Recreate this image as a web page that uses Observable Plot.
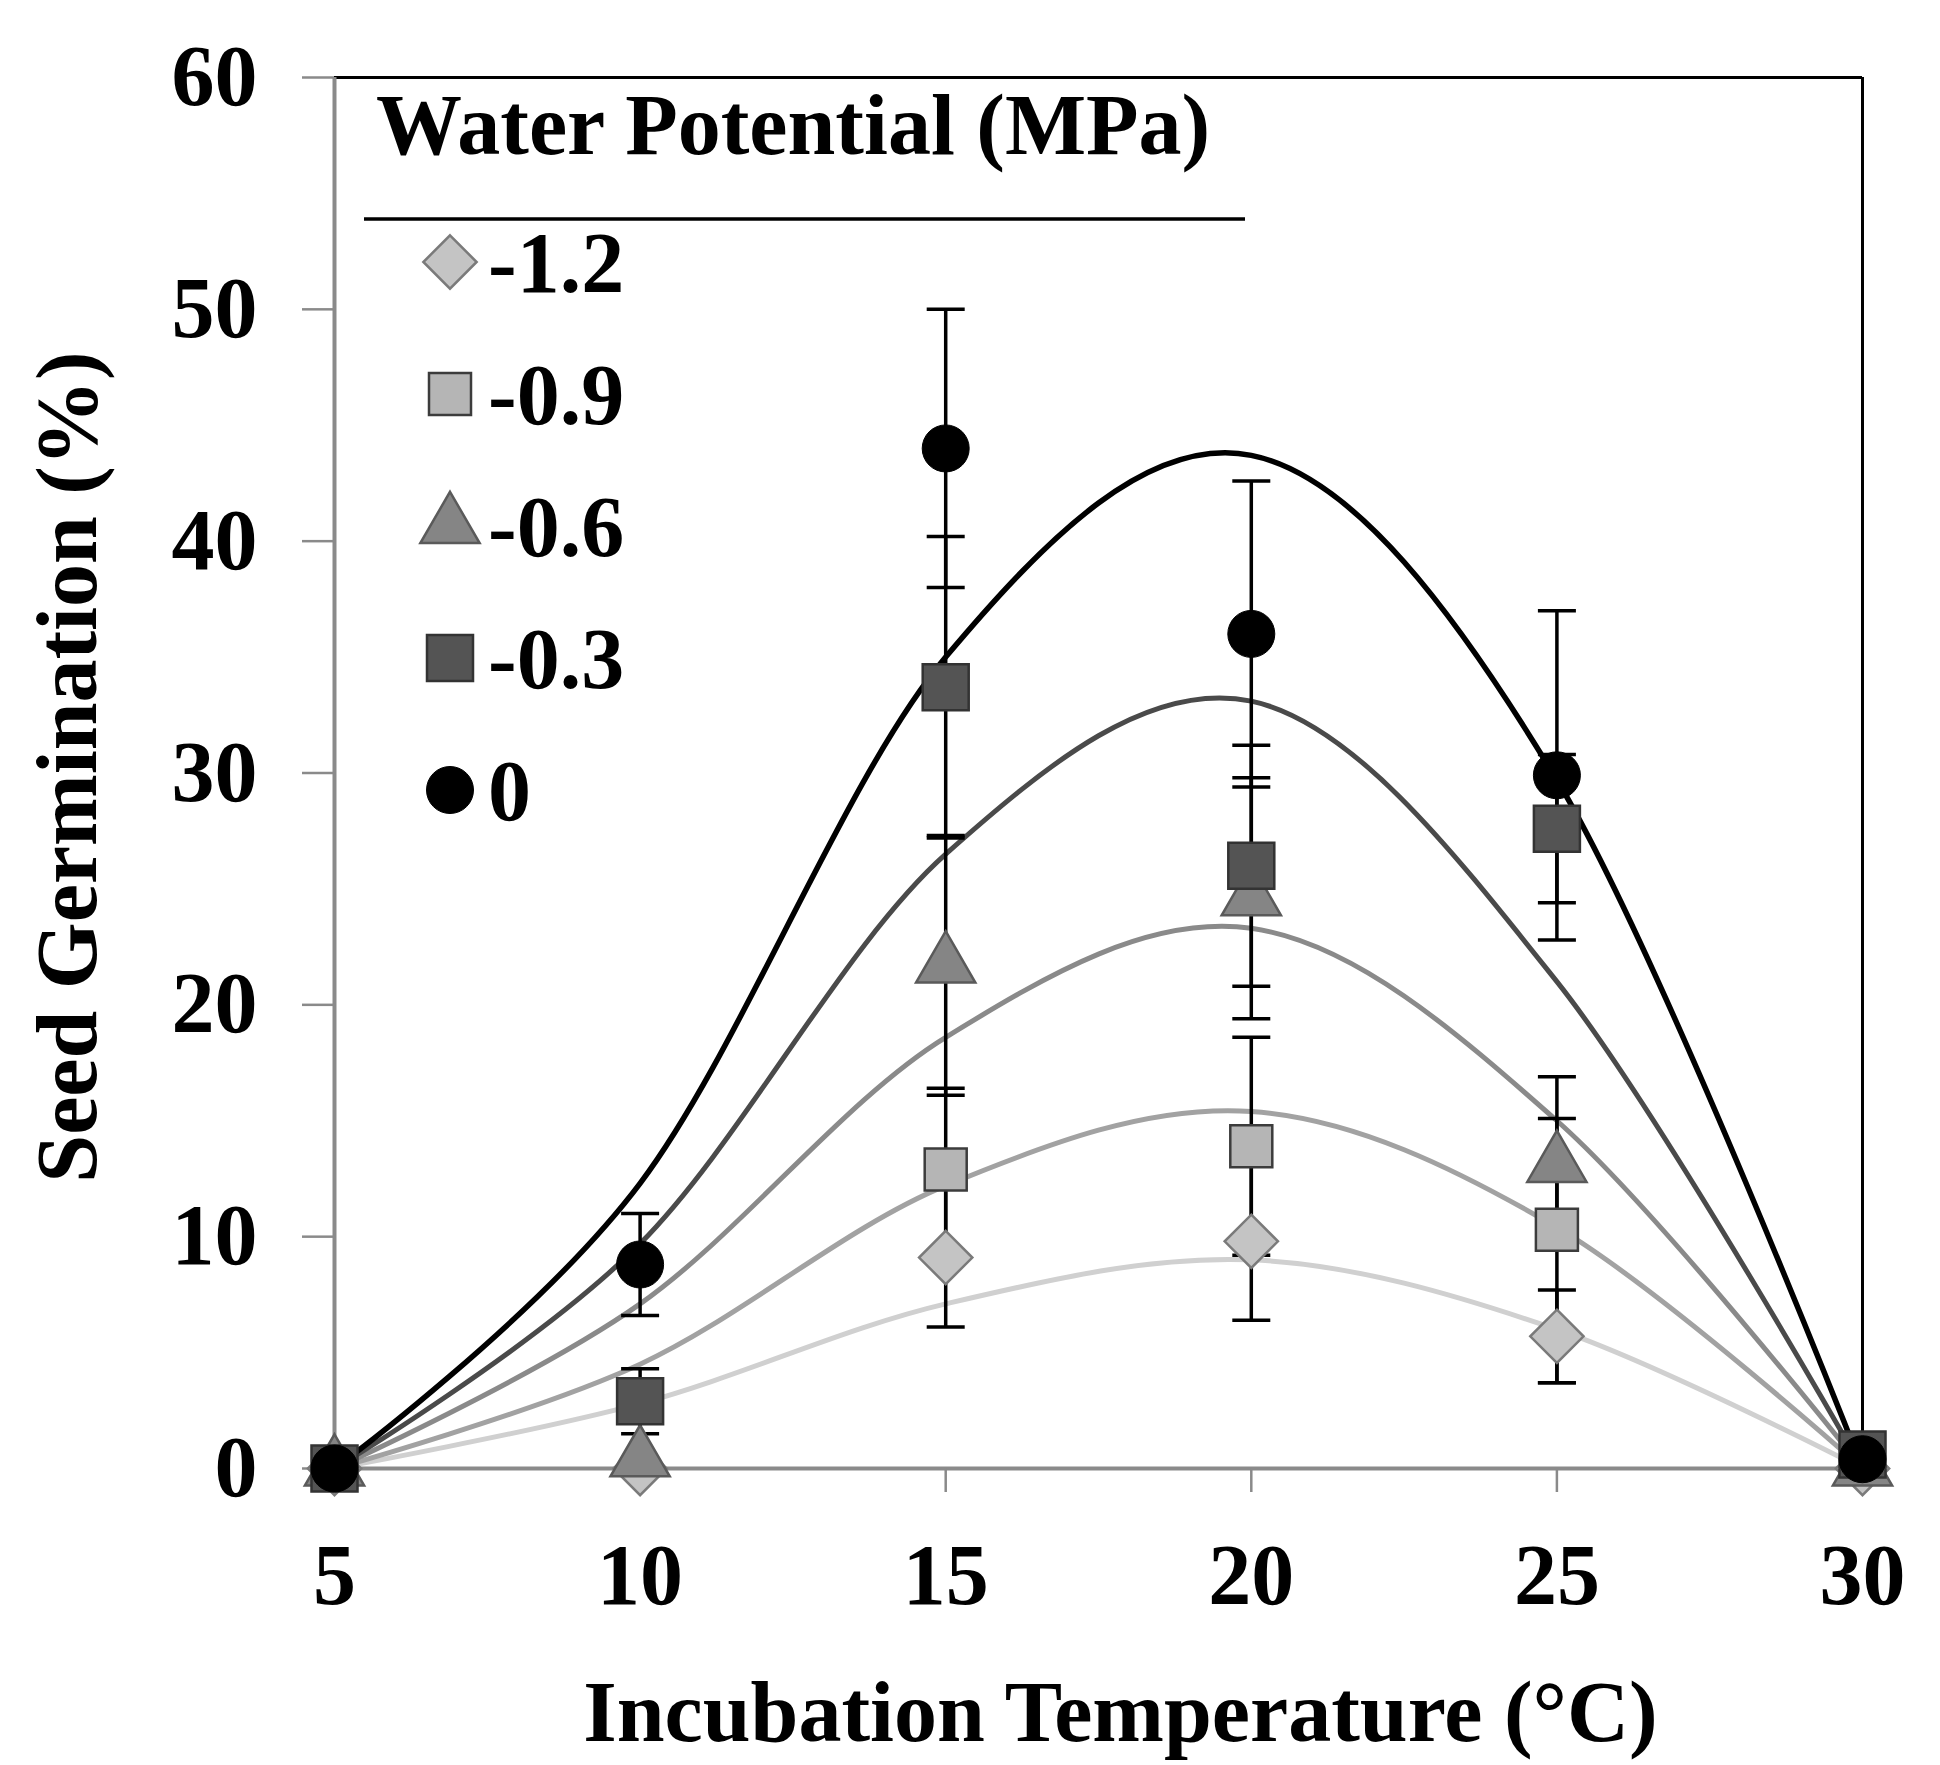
<!DOCTYPE html>
<html>
<head>
<meta charset="utf-8">
<script src="https://cdn.jsdelivr.net/npm/d3@7"></script>
<script src="https://cdn.jsdelivr.net/npm/@observablehq/plot@0.6"></script>
<style>
  body { margin: 0; background: #fff; }
  #chart { width: 1940px; height: 1765px; }
</style>
</head>
<body>
<div id="chart"></div>
<script>
// ---------- data ----------
const temperature = [5, 10, 15, 20, 25, 30];
const seriesNames = ["-1.2", "-0.9", "-0.6", "-0.3", "0"];
const xTicks = [5, 10, 15, 20, 25, 30];
const yTicks = [0, 10, 20, 30, 40, 50, 60];

// observed germination means (%) and error bar half-widths (null = no visible marker)
const meanM12 = [0, 0, 9.1, 9.8, 5.7, 0];
const errM12  = [0, 0, 3.0, 3.4, 2.0, 0];
const meanM09 = [0, null, 12.9, 13.9, 10.3, 0.3];
const errM09  = [0, 0, 3.5, 4.7, 6.6, 0];
const meanM06 = [0, 0.4, 21.7, 24.6, 13.1, 0];
const errM06  = [0, 0, 5.6, 5.2, 2.0, 0];
const meanM03 = [0, 2.9, 33.7, 26.0, 27.6, 0.6];
const errM03  = [0, 1.4, 6.5, 5.2, 3.2, 0];
const mean0   = [0, 8.8, 44.0, 36.0, 29.9, 0.4];
const err0    = [0, 2.2, 6.0, 6.6, 7.1, 0];

// fitted model values at each incubation temperature (smoothed line drawn through them)
const fitM12 = [0, 2.8, 7.1, 9.0, 6.0, 0];
const fitM09 = [0, 4.5, 12.2, 15.4, 10.4, 0];
const fitM06 = [0, 7.1, 18.6, 23.3, 15.0, 0];
const fitM03 = [0, 9.7, 26.5, 33.1, 21.0, 0];
const fit0   = [0, 12.3, 35.0, 43.7, 29.7, 0];

const means = [meanM12, meanM09, meanM06, meanM03, mean0];
const errs  = [errM12, errM09, errM06, errM03, err0];
const fits  = [fitM12, fitM09, fitM06, fitM03, fit0];

// ---------- styles ----------
const styles = [
  {symbol: "diamond2", r: 24, fill: "#c4c4c4", stroke: "#7a7a7a", sw: 2.5, line: "#d0d0d0", lw: 5},
  {symbol: "square",   r: 42 / Math.sqrt(Math.PI), fill: "#b5b5b5", stroke: "#3c3c3c", sw: 2.5, line: "#a2a2a2", lw: 5},
  {symbol: "triangle", r: 22, fill: "#858585", stroke: "#5a5a5a", sw: 2.5, line: "#8a8a8a", lw: 5},
  {symbol: "square",   r: 46 / Math.sqrt(Math.PI), fill: "#545454", stroke: "#333333", sw: 2.5, line: "#4a4a4a", lw: 5},
  {symbol: "circle",   r: 23.5, fill: "#000000", stroke: "#000000", sw: 1, line: "#000000", lw: 5.5}
];

const FONT = "'Liberation Serif', 'Times New Roman', Times, serif";
const FS = 86;
const axisGray = "#8a8a8a";

// ---------- build tables ----------
const pointRows = seriesNames.map((name, s) =>
  temperature.map((t, i) => {
    const m = means[s][i];
    return {series: name, t, v: m, lo: m == null ? null : m - errs[s][i], hi: m == null ? null : m + errs[s][i], e: errs[s][i]};
  })
);
const fitRows = seriesNames.map((name, s) =>
  temperature.map((t, i) => ({series: name, t, v: fits[s][i]}))
);

const capSymbol = {draw(ctx) { ctx.moveTo(-19, 0); ctx.lineTo(19, 0); }};
const smooth = d3.curveCatmullRom.alpha(0);

const marks = [];
// frame lines
marks.push(Plot.ruleY([60], {stroke: "#000", strokeWidth: 3}));
marks.push(Plot.ruleX([30], {stroke: "#000", strokeWidth: 3}));
marks.push(Plot.ruleX([5], {stroke: axisGray, strokeWidth: 4}));
marks.push(Plot.ruleY([0], {stroke: axisGray, strokeWidth: 4}));
// axes
marks.push(Plot.axisY({ticks: yTicks, tickSize: 32, tickPadding: 45, stroke: axisGray, strokeWidth: 2.5, fill: "#000",
  fontSize: FS, fontFamily: FONT, fontWeight: "bold", label: null}));
marks.push(Plot.axisX({ticks: xTicks, tickSize: 24, tickPadding: 50, stroke: axisGray, strokeWidth: 2.5, fill: "#000",
  fontSize: FS, fontFamily: FONT, fontWeight: "bold", label: null}));
// fitted curves
seriesNames.forEach((name, s) => {
  marks.push(Plot.line(fitRows[s], {x: "t", y: "v", stroke: styles[s].line, strokeWidth: styles[s].lw, curve: smooth}));
});
// error bars
seriesNames.forEach((name, s) => {
  const rows = pointRows[s].filter(d => d.e > 0 && d.v != null);
  marks.push(Plot.ruleX(rows, {x: "t", y1: "lo", y2: "hi", stroke: "#000", strokeWidth: 3.5}));
  marks.push(Plot.dot(rows, {x: "t", y: "hi", symbol: capSymbol, stroke: "#000", fill: "none", strokeWidth: 3.5}));
  marks.push(Plot.dot(rows, {x: "t", y: "lo", symbol: capSymbol, stroke: "#000", fill: "none", strokeWidth: 3.5}));
});
// markers
seriesNames.forEach((name, s) => {
  const st = styles[s];
  marks.push(Plot.dot(pointRows[s].filter(d => d.v != null), {x: "t", y: "v", symbol: st.symbol, r: st.r, fill: st.fill, stroke: st.stroke, strokeWidth: st.sw}));
});
// axis titles
marks.push(Plot.text(["Seed Germination (%)"], {frameAnchor: "left", textAnchor: "middle", dx: -266, dy: -6, rotate: -90, lineAnchor: "middle",
  fontSize: FS, fontFamily: FONT, fontWeight: "bold", fill: "#000"}));
marks.push(Plot.text(["Incubation Temperature (°C)"], {frameAnchor: "bottom", textAnchor: "middle", dx: 22, dy: 245, lineAnchor: "middle",
  fontSize: FS, fontFamily: FONT, fontWeight: "bold", fill: "#000"}));

const plot = Plot.plot({
  width: 1940,
  height: 1765,
  marginLeft: 334,
  marginRight: 78,
  marginTop: 77,
  marginBottom: 297,
  x: {domain: [5, 30]},
  y: {domain: [0, 60]},
  style: {background: "#fff", fontFamily: FONT},
  marks
});

// ---------- legend (inside the plot, top-left) ----------
const svg = d3.select(plot);
const lg = svg.append("g")
  .attr("font-family", FONT).attr("font-weight", "bold").attr("font-size", FS)
  .attr("fill", "#000").attr("text-anchor", "start");
lg.append("text").attr("x", 376).attr("y", 154).attr("font-size", 86).text("Water Potential (MPa)");
lg.append("line").attr("x1", 364).attr("x2", 1245).attr("y1", 219).attr("y2", 219)
  .attr("stroke", "#000").attr("stroke-width", 3.5);
const d3Symbols = {diamond2: d3.symbolDiamond2, square: d3.symbolSquare, triangle: d3.symbolTriangle, circle: d3.symbolCircle};
seriesNames.forEach((name, s) => {
  const st = styles[s];
  const cy = 262 + s * 132;
  lg.append("path")
    .attr("transform", `translate(450,${cy})`)
    .attr("d", d3.symbol(d3Symbols[st.symbol], Math.PI * st.r * st.r)())
    .attr("fill", st.fill).attr("stroke", st.stroke).attr("stroke-width", st.sw);
  lg.append("text").attr("x", 488).attr("y", cy).attr("dy", "0.35em").text(name);
});

document.getElementById("chart").appendChild(plot);
</script>
</body>
</html>
